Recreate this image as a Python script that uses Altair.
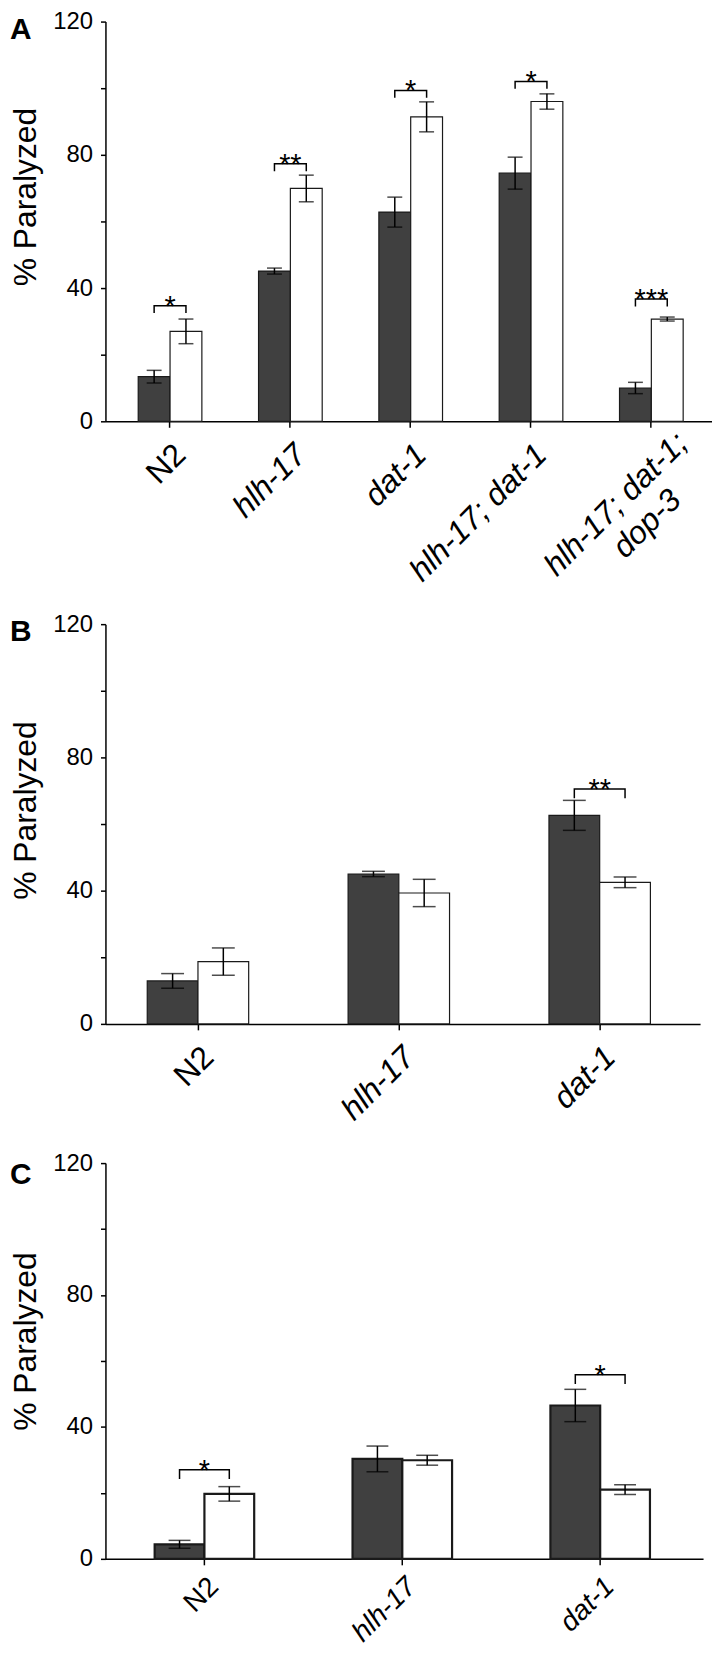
import altair as alt
import pandas as pd

FONT = "Liberation Sans, Arial, sans-serif"
GROUPS = ["dark", "white"]
Y_TICKS = [0, 20, 40, 60, 80, 100, 120]

# ---------------- Panel A ----------------
a_strains = ["N2", "hlh-17", "dat-1", "hlh-17; dat-1", "hlh-17; dat-1; dop-3"]
a_labels = ["N2", "hlh-17", "dat-1", "hlh-17; dat-1", "hlh-17; dat-1;\ndop-3"]
a_dark = [13.4, 45.1, 62.8, 74.5, 10.0]
a_dark_err = [1.9, 0.9, 4.5, 4.8, 1.7]
a_white = [27.0, 69.9, 91.4, 96.0, 30.7]
a_white_err = [3.7, 4.0, 4.5, 2.3, 0.6]
a_sig = ["*", "**", "*", "*", "***"]
a_sig_y = [34.7, 77.3, 99.3, 102.0, 36.7]

# ---------------- Panel B ----------------
b_strains = ["N2", "hlh-17", "dat-1"]
b_labels = ["N2", "hlh-17", "dat-1"]
b_dark = [12.9, 45.0, 62.6]
b_dark_err = [2.2, 0.8, 4.5]
b_white = [18.7, 39.3, 42.5]
b_white_err = [4.1, 4.1, 1.6]
b_sig = ["", "", "**"]
b_sig_y = [0, 0, 70.5]

# ---------------- Panel C ----------------
c_strains = ["N2", "hlh-17", "dat-1"]
c_labels = ["N2", "hlh-17", "dat-1"]
c_dark = [4.4, 30.3, 46.5]
c_dark_err = [1.2, 3.9, 4.9]
c_white = [19.7, 29.9, 21.0]
c_white_err = [2.2, 1.5, 1.5]
c_sig = ["*", "", "*"]
c_sig_y = [27.0, 0, 55.8]


def panel(letter, strains, labels, dark, dark_err, white, white_err, sig, sig_y,
          width, height, pi, po, al, cap, leg, title_y, letter_y, bar_sw,
          lab_size=32, lab_py=18):
    rows = []
    for s, v, e in zip(strains, dark, dark_err):
        rows.append({"strain": s, "group": "dark", "value": v, "lo": v - e, "hi": v + e})
    for s, v, e in zip(strains, white, white_err):
        rows.append({"strain": s, "group": "white", "value": v, "lo": v - e, "hi": v + e})
    bars_df = pd.DataFrame(rows)

    br = []
    stars = []
    for s, t, yv in zip(strains, sig, sig_y):
        if t:
            br += [
                {"strain": s, "group": "dark", "y": yv - leg, "ord": 0},
                {"strain": s, "group": "dark", "y": yv, "ord": 1},
                {"strain": s, "group": "white", "y": yv, "ord": 2},
                {"strain": s, "group": "white", "y": yv - leg, "ord": 3},
            ]
            stars.append({"strain": s, "y": yv, "sig": t})
    br_df = pd.DataFrame(br)
    star_df = pd.DataFrame(stars)

    lab_rows = []
    for s, l in zip(strains, labels):
        if "\n" in l:
            l1, l2 = l.split("\n")
            lab_rows.append({"strain": s, "label": l1, "kind": "multi1"})
            lab_rows.append({"strain": s, "label": l2, "kind": "multi2"})
        else:
            lab_rows.append({"strain": s, "label": l, "kind": "plain" if l == "N2" else "ital"})
    lab_df = pd.DataFrame(lab_rows)

    xaxis = alt.Axis(labels=False, title=None, tickSize=6, tickWidth=1.5,
                     tickColor="black", domainColor="black", domainWidth=1.5,
                     grid=False)
    xscale = alt.Scale(domain=strains, paddingInner=pi, paddingOuter=po, align=al)
    X = alt.X("strain:N", scale=xscale, axis=xaxis)
    XO = alt.XOffset("group:N", scale=alt.Scale(domain=GROUPS, paddingInner=0, paddingOuter=0))

    yaxis = alt.Axis(values=Y_TICKS, labelExpr="datum.value % 40 === 0 ? datum.label : ''",
                     grid=False, tickSize=5, tickWidth=1.5, tickColor="black",
                     domainColor="black", domainWidth=1.5, labelFont=FONT,
                     labelFontSize=24, labelColor="black", labelPadding=8,
                     title="% Paralyzed", titleFont=FONT, titleFontSize=32,
                     titleFontWeight="normal", titleColor="black",
                     titleX=-80, titleY=title_y, titleBaseline="middle",
                     titleAlign="center", titleAngle=270)
    yscale = alt.Scale(domain=[0, 120], nice=False)

    def Y(field):
        return alt.Y(field, type="quantitative", scale=yscale, axis=yaxis)

    fill = alt.Fill("group:N", scale=alt.Scale(domain=GROUPS, range=["#404040", "#ffffff"]),
                    legend=None)

    bars = alt.Chart(bars_df).mark_bar(stroke="#1a1a1a", strokeWidth=bar_sw).encode(
        x=X, xOffset=XO, y=Y("value"), fill=fill)
    err = alt.Chart(bars_df).mark_rule(color="black", strokeWidth=1.5).encode(
        x=X, xOffset=XO, y=Y("lo"), y2="hi")
    cap_lo = alt.Chart(bars_df).mark_tick(color="black", thickness=1.5, size=cap).encode(
        x=X, xOffset=XO, y=Y("lo"))
    cap_hi = alt.Chart(bars_df).mark_tick(color="black", thickness=1.5, size=cap).encode(
        x=X, xOffset=XO, y=Y("hi"))
    brack = alt.Chart(br_df).mark_line(color="black", strokeWidth=1.5).encode(
        x=X, xOffset=XO, y=Y("y"), detail="strain:N", order="ord:Q")
    star = alt.Chart(star_df).mark_text(font=FONT, fontSize=29, baseline="alphabetic",
                                        dy=10, color="black").encode(
        x=X, y=Y("y"), text="sig:N")

    def lab_layer(kind, italic, align, baseline, px, py):
        d = px * 0.7071
        kw = dict(font=FONT, fontSize=lab_size, angle=315, align=align, baseline=baseline,
                  dx=d, dy=d, color="black")
        if italic:
            kw["fontStyle"] = "italic"
        return alt.Chart(lab_df).transform_filter(f"datum.kind == '{kind}'").mark_text(
            **kw).encode(x=X, y=alt.value(height + py), text="label:N")

    layers = [bars, err, cap_lo, cap_hi, brack, star,
              lab_layer("plain", False, "right", "top", 0, lab_py),
              lab_layer("ital", True, "right", "top", 0, lab_py)]
    if (lab_df["kind"] == "multi1").any():
        layers.append(lab_layer("multi1", True, "center", "middle", -35.5, 83.5))
        layers.append(lab_layer("multi2", True, "center", "middle", -4.5, 103))

    let_df = pd.DataFrame({"t": [letter]})
    let_mark = alt.Chart(let_df).mark_text(font=FONT, fontSize=30, fontWeight="bold",
                                           align="left", baseline="top",
                                           color="black").encode(
        x=alt.value(-96), y=alt.value(letter_y), text="t:N")
    layers.append(let_mark)

    return alt.layer(*layers).properties(width=width, height=height)


A = panel("A", a_strains, a_labels, a_dark, a_dark_err, a_white, a_white_err, a_sig, a_sig_y,
          610, 402, 0.471, 0.256, 0.532, 15, 2.2, 176, -6, 1.2)
B = panel("B", b_strains, b_labels, b_dark, b_dark_err, b_white, b_white_err, b_sig, b_sig_y,
          598, 402, 0.495, 0.2277, 0.457, 23, 2.8, 187, -7, 1.2)
C = panel("C", c_strains, c_labels, c_dark, c_dark_err, c_white, c_white_err, c_sig, c_sig_y,
          601, 398, 0.497, 0.2585, 0.481, 22, 2.8, 179, -3, 2.2,
          lab_size=28, lab_py=14)

chart = alt.vconcat(A, B, C, spacing=25).resolve_scale(
    xOffset="independent"
).properties(
    padding={"left": 2, "top": -3, "right": 0, "bottom": -4}
).configure_view(stroke=None)

chart.save("out.html", embed_options={"renderer": "svg", "actions": False})
